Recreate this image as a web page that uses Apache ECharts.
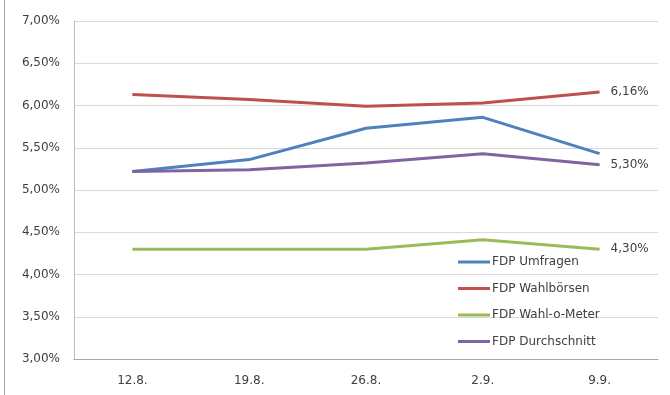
<!DOCTYPE html>
<html>
<head>
<meta charset="utf-8">
<script src="https://cdn.jsdelivr.net/npm/echarts@6/dist/echarts.min.js"></script>
<style>html,body{margin:0;padding:0;background:#fff}#c{width:670px;height:395px}</style>
</head>
<body>
<div id="c"></div>
<script>
const categories = ['12.8.', '19.8.', '26.8.', '2.9.', '9.9.'];
const umfragen = [5.22, 5.36, 5.73, 5.86, 5.43];
const wahlboersen = [6.13, 6.07, 5.99, 6.03, 6.16];
const wahlOMeter = [4.30, 4.30, 4.30, 4.41, 4.30];
const durchschnitt = [5.22, 5.24, 5.32, 5.43, 5.30];
const seriesNames = ['FDP Umfragen', 'FDP Wahlbörsen', 'FDP Wahl-o-Meter', 'FDP Durchschnitt'];
const colors = ['#4F81BD', '#C0504D', '#9BBB59', '#8064A2'];
const showEndLabel = [false, true, true, true];

const fmt = v => v.toFixed(2).replace('.', ',') + '%';
const font = '"DejaVu Sans", sans-serif';

const chart = echarts.init(document.getElementById('c'));
const datasets = [umfragen, wahlboersen, wahlOMeter, durchschnitt];
chart.setOption({
  animation: false,
  color: colors,
  grid: { left: 74, right: 12, top: 21, bottom: 36 },
  graphic: [{
    type: 'line', shape: { x1: 4.5, y1: 0, x2: 4.5, y2: 395 },
    style: { stroke: '#A6A6A6', lineWidth: 1 }
  }],
  legend: {
    orient: 'vertical', left: 453, top: 251,
    itemWidth: 32, itemHeight: 3, itemGap: 14.5,
    icon: 'rect',
    textStyle: { fontFamily: font, fontSize: 12, color: '#404040', padding: [0, 0, 0, -3] },
    data: seriesNames
  },
  xAxis: {
    type: 'category', data: categories, boundaryGap: true,
    axisLine: { lineStyle: { color: '#A6A6A6', width: 1 } },
    axisTick: { show: false },
    axisLabel: { fontFamily: font, fontSize: 12, color: '#404040', margin: 16 }
  },
  yAxis: {
    type: 'value', min: 3, max: 7, interval: 0.5,
    axisLine: { show: true, lineStyle: { color: '#BFBFBF', width: 1 } },
    axisTick: { show: false },
    splitLine: { lineStyle: { color: '#D9D9D9', width: 1 } },
    axisLabel: { fontFamily: font, fontSize: 12, color: '#404040', margin: 14, formatter: fmt }
  },
  series: datasets.map((d, i) => ({
    name: seriesNames[i], type: 'line', data: d,
    symbol: 'none', lineStyle: { width: 3, color: colors[i] },
    itemStyle: { color: colors[i] },
    endLabel: {
      show: showEndLabel[i], distance: 11,
      fontFamily: font, fontSize: 12, color: '#404040',
      formatter: p => fmt(p.value)
    }
  }))
});
</script>
</body>
</html>
